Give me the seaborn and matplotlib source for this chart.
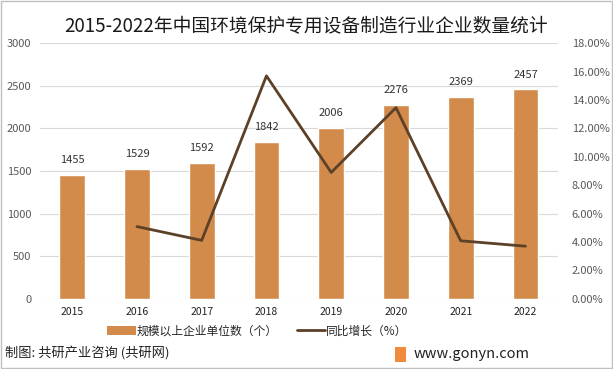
import matplotlib
matplotlib.use("Agg")
import matplotlib.pyplot as plt
import seaborn as sns
import pandas as pd
from matplotlib.patches import Patch, Rectangle
from matplotlib.lines import Line2D

years = ["2015", "2016", "2017", "2018", "2019", "2020", "2021", "2022"]
counts = [1455, 1529, 1592, 1842, 2006, 2276, 2369, 2457]
growth = [None, 5.09, 4.12, 15.70, 8.90, 13.46, 4.09, 3.71]
left_ticks = [0, 500, 1000, 1500, 2000, 2500, 3000]
right_ticks = [0, 2, 4, 6, 8, 10, 12, 14, 16, 18]

sns.set_theme(style="white")
plt.rcParams['font.family'] = ['Noto Sans CJK SC', 'DejaVu Sans']

bar_color = "#D38B4B"
line_color = "#5C4128"
tick_color = "#595959"

df = pd.DataFrame({"year": years, "count": counts, "growth": growth})
df["pos"] = range(len(df))

fig = plt.figure(figsize=(6.13, 3.69), dpi=100)
ax = fig.add_axes([0.065, 0.190, 0.845, 0.693])

sns.barplot(data=df, x="year", y="count", color=bar_color, width=0.4,
            saturation=1, ax=ax, zorder=2)
ax.set_ylim(0, 3000)
ax.set_yticks(left_ticks)
ax.set_xlim(-0.5, len(years) - 0.5)
ax.grid(axis="y", color="#D9D9D9", linewidth=0.8, zorder=0)
ax.set_axisbelow(True)
for s in ax.spines.values():
    s.set_visible(False)
ax.set_xlabel("")
ax.set_ylabel("")
ax.tick_params(axis="y", labelsize=8, colors=tick_color, length=0, pad=6)
ax.tick_params(axis="x", labelsize=7.5, colors="#222222", length=0, pad=6)
for c in ax.containers:
    ax.bar_label(c, fmt="%d", fontsize=8, color="#333333", padding=7)

ax2 = ax.twinx()
sns.lineplot(data=df.dropna(), x="pos", y="growth", color=line_color,
             linewidth=2, ax=ax2)
ax2.set_ylim(0, 18)
ax2.set_yticks(right_ticks)
ax2.set_yticklabels([f"{v:.2f}%" for v in right_ticks])
ax2.set_xlim(-0.5, len(years) - 0.5)
ax2.set_ylabel("")
ax2.set_xlabel("")
for s in ax2.spines.values():
    s.set_visible(False)
ax2.tick_params(axis="y", labelsize=8, colors=tick_color, length=0, pad=10)

fig.text(0.5, 1 - 27 / 369, "2015-2022年中国环境保护专用设备制造行业企业数量统计",
         ha="center", va="center", fontsize=13.5, color="#1a1a1a")

handles = [Patch(facecolor=bar_color, edgecolor="none"),
           Line2D([0], [0], color=line_color, linewidth=2)]
labels = ["规模以上企业单位数（个）", "同比增长（%）"]
fig.legend(handles, labels, loc="center", bbox_to_anchor=(0.42, 1 - 331 / 369),
           ncol=2, frameon=False, fontsize=8.5, handlelength=2.4,
           columnspacing=1.6, handletextpad=0.1)

fig.text(5 / 613, 1 - 354 / 369, "制图: 共研产业咨询 (共研网)", ha="left",
         va="center", fontsize=9.5, color="#222222")
fig.text(414 / 613, 1 - 354 / 369, "www.gonyn.com", ha="left",
         va="center", fontsize=10.5, color="#222222")
fig.patches.append(Rectangle((395 / 613, 1 - 362 / 369), 11 / 613, 15 / 369,
                             transform=fig.transFigure, facecolor="#F08A3C",
                             edgecolor="none"))
fig.patches.append(Rectangle((0.002, 0.003), 0.996, 0.994, transform=fig.transFigure,
                             facecolor="none", edgecolor="#BFBFBF", linewidth=1))

fig.savefig("out.png", dpi=100)
